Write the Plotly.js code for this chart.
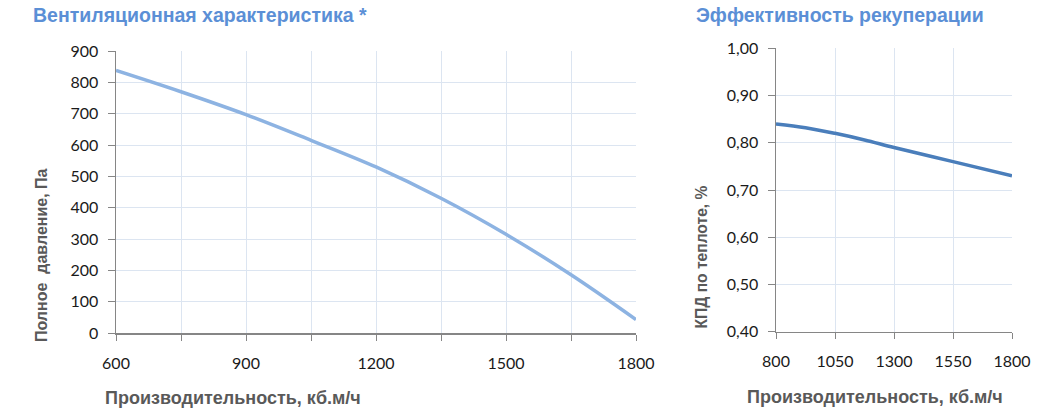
<!DOCTYPE html>
<html>
<head>
<meta charset="utf-8">
<script src="https://cdn.plot.ly/plotly-3.0.1.min.js"></script>
<style>html,body{margin:0;padding:0;background:#fff}#chart{width:1045px;height:412px}</style>
</head>
<body>
<div id="chart"></div>
<script>
// Left chart: fan characteristic
const flowFan = [600, 750, 900, 1050, 1200, 1350, 1500, 1650, 1800];
const pressure = [838, 770, 697, 615, 530, 430, 315, 186, 43];
// Right chart: recuperation efficiency
const flowRec = [800, 925, 1050, 1175, 1300, 1550, 1800];
const efficiency = [0.840, 0.832, 0.820, 0.806, 0.790, 0.760, 0.730];

const leftTitle = 'Вентиляционная характеристика *';
const rightTitle = 'Эффективность рекуперации';
const xTitle = 'Производительность, кб.м/ч';
const leftYTitle = 'Полное  давление, Па';
const rightYTitle = 'КПД по теплоте, %';

const tickFont = {family: 'Lato, "Open Sans", sans-serif', size: 16, color: '#1a1a1a'};
const axTitleFont = {family: '"Liberation Sans", Arial, sans-serif', size: 18, color: '#595959', weight: 'bold'};
const headFont = {family: '"Liberation Sans", Arial, sans-serif', size: 19.5, color: '#5B8FD6', weight: 'bold'};
const gridC = '#DCE5F1';
const axisC = '#868686';

const traces = [
  {x: flowFan, y: pressure, xaxis: 'x', yaxis: 'y', mode: 'lines',
   line: {color: '#8DB3E2', width: 3.5, shape: 'spline'}, hoverinfo: 'none'},
  {x: flowRec, y: efficiency, xaxis: 'x2', yaxis: 'y2', mode: 'lines',
   line: {color: '#4A7EBB', width: 3.5, shape: 'spline'}, hoverinfo: 'none'}
];

const layout = {
  width: 1045, height: 412,
  margin: {l: 0, r: 0, t: 0, b: 0},
  paper_bgcolor: '#fff', plot_bgcolor: '#fff',
  showlegend: false,
  separators: ', ',
  xaxis: {domain: [116/1045, 636/1045], range: [600, 1800], anchor: 'y',
    tickvals: [600, 900, 1200, 1500, 1800], showgrid: true, gridcolor: gridC,
    ticks: 'outside', ticklen: 6, tickcolor: axisC, showline: true, linecolor: axisC, linewidth: 1.5,
    minor: {tickvals: [750, 1050, 1350, 1650], ticks: 'outside', ticklen: 6, tickcolor: axisC, showgrid: true, gridcolor: gridC},
    tickfont: tickFont, ticklabelstandoff: 9, zeroline: false, fixedrange: true},
  yaxis: {domain: [(412-333)/412, (412-51)/412], range: [0, 900], anchor: 'x',
    dtick: 100, showgrid: true, gridcolor: gridC, ticks: 'outside', ticklen: 7, tickcolor: axisC,
    showline: true, linecolor: axisC, linewidth: 1.5, tickfont: tickFont, ticklabelstandoff: 6,
    zeroline: false, fixedrange: true},
  xaxis2: {domain: [776/1045, 1012/1045], range: [800, 1800], anchor: 'y2',
    tickvals: [800, 1050, 1300, 1550, 1800], showgrid: true, gridcolor: gridC,
    ticks: 'outside', ticklen: 6, tickcolor: axisC, showline: true, linecolor: axisC, linewidth: 1.5,
    tickfont: tickFont, ticklabelstandoff: 9, zeroline: false, fixedrange: true},
  yaxis2: {domain: [(412-331.7)/412, (412-48.3)/412], range: [0.4, 1.0], anchor: 'x2',
    dtick: 0.1, tickformat: '.2f', showgrid: true, gridcolor: gridC, ticks: 'outside', ticklen: 7, tickcolor: axisC,
    showline: true, linecolor: axisC, linewidth: 1.5, tickfont: tickFont, ticklabelstandoff: 6,
    zeroline: false, fixedrange: true},
  annotations: [
    {text: leftTitle, xref: 'paper', yref: 'paper', x: 31/1045, y: (412-15)/412, xanchor: 'left', yanchor: 'middle', showarrow: false, font: headFont},
    {text: rightTitle, xref: 'paper', yref: 'paper', x: 694/1045, y: (412-15)/412, xanchor: 'left', yanchor: 'middle', showarrow: false, font: headFont},
    {text: xTitle, xref: 'paper', yref: 'paper', x: 233/1045, y: (412-398)/412, xanchor: 'center', yanchor: 'middle', showarrow: false, font: axTitleFont},
    {text: xTitle, xref: 'paper', yref: 'paper', x: 875/1045, y: (412-397)/412, xanchor: 'center', yanchor: 'middle', showarrow: false, font: axTitleFont},
    {text: leftYTitle, xref: 'paper', yref: 'paper', x: 41/1045, y: (412-255)/412, xanchor: 'center', yanchor: 'middle', textangle: -90, showarrow: false,
     font: Object.assign({}, axTitleFont, {size: 16})},
    {text: rightYTitle, xref: 'paper', yref: 'paper', x: 701/1045, y: (412-257.5)/412, xanchor: 'center', yanchor: 'middle', textangle: -90, showarrow: false,
     font: Object.assign({}, axTitleFont, {size: 15.6})}
  ]
};

Plotly.newPlot('chart', traces, layout, {displayModeBar: false, staticPlot: true});
</script>
</body>
</html>
